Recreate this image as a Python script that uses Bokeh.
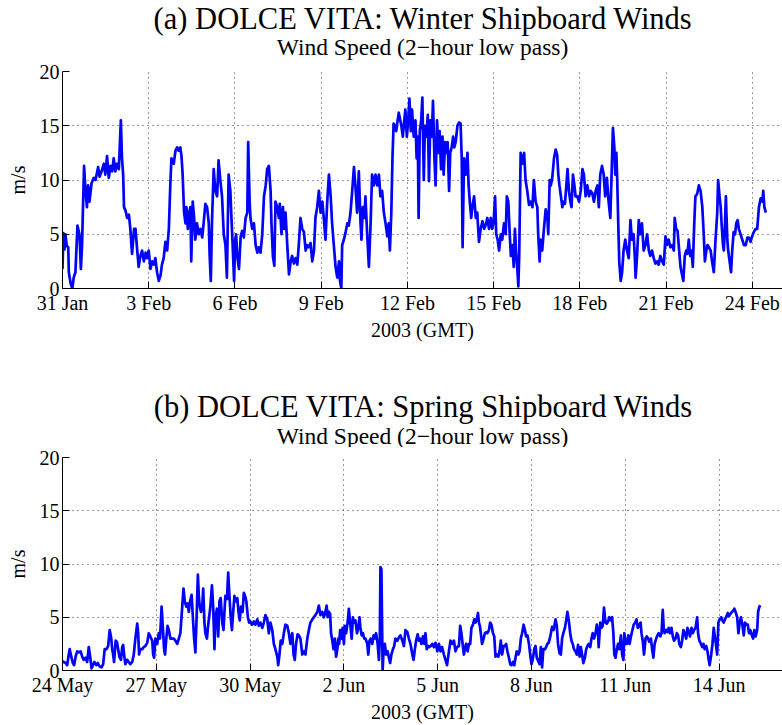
from bokeh.plotting import figure
from bokeh.layouts import column
from bokeh.models import FixedTicker, Range1d
from bokeh.core.properties import value
from bokeh.embed import file_html
from bokeh.resources import INLINE

FONT = "Liberation Serif"

# Winter cruise: days since 31 Jan 2003 00:00 GMT, wind speed (m/s)
winter_day = [
    0.00, 0.03, 0.07, 0.10, 0.15, 0.20, 0.22, 0.28, 0.34, 0.39, 0.45, 0.52, 0.59, 0.64, 0.68,
    0.75, 0.80, 0.85, 0.89, 0.94, 1.01, 1.09, 1.15, 1.24, 1.29, 1.36, 1.44, 1.49, 1.55, 1.61,
    1.67, 1.73, 1.78, 1.84, 1.90, 1.96, 2.03, 2.07, 2.11, 2.14, 2.19, 2.25, 2.31, 2.36, 2.42,
    2.49, 2.54, 2.60, 2.65, 2.71, 2.77, 2.83, 2.89, 2.94, 3.00, 3.06, 3.12, 3.18, 3.23, 3.29,
    3.35, 3.41, 3.46, 3.52, 3.58, 3.64, 3.70, 3.75, 3.79, 3.87, 3.93, 3.99, 4.04, 4.10, 4.14,
    4.18, 4.23, 4.28, 4.31, 4.36, 4.39, 4.45, 4.48, 4.53, 4.58, 4.62, 4.68, 4.74, 4.80, 4.86,
    4.91, 4.97, 5.03, 5.09, 5.12, 5.16, 5.20, 5.26, 5.32, 5.38, 5.43, 5.49, 5.55, 5.61, 5.67,
    5.72, 5.78, 5.84, 5.87, 5.92, 5.97, 6.01, 6.04,
    6.08, 6.14, 6.20, 6.25, 6.31, 6.37, 6.43, 6.46, 6.51, 6.54, 6.60, 6.66, 6.72, 6.78, 6.83,
    6.89, 6.95, 7.01, 7.07, 7.12, 7.18, 7.24, 7.27, 7.32, 7.37, 7.41, 7.47, 7.53, 7.56, 7.62,
    7.67, 7.71, 7.76, 7.82, 7.88, 7.94, 7.99, 8.05, 8.11, 8.17, 8.22, 8.28, 8.34, 8.40, 8.46,
    8.51, 8.57, 8.63, 8.69, 8.75, 8.80, 8.86, 8.92, 8.98, 9.04, 9.09, 9.15, 9.21, 9.27, 9.33,
    9.38, 9.44, 9.50, 9.56, 9.62, 9.65, 9.70, 9.73, 9.79, 9.85, 9.91, 9.96, 10.02, 10.08, 10.14,
    10.19, 10.25, 10.31, 10.37, 10.40, 10.45, 10.50, 10.54, 10.60, 10.66, 10.72, 10.77, 10.83,
    10.89, 10.95, 11.01, 11.06, 11.12, 11.18, 11.24, 11.30, 11.35, 11.39, 11.44, 11.48, 11.52,
    11.56, 11.61, 11.66, 11.70, 11.75, 11.79, 11.84, 11.89, 11.93, 11.98, 12.03, 12.07, 12.12,
    12.16, 12.22, 12.28,
    12.32, 12.36, 12.39, 12.43, 12.48, 12.52, 12.57, 12.61, 12.66, 12.71, 12.75, 12.80, 12.85,
    12.89, 12.94, 12.98, 13.03, 13.08, 13.12, 13.17, 13.22, 13.26, 13.31, 13.36, 13.40, 13.45,
    13.49, 13.54, 13.59, 13.63, 13.68, 13.74, 13.80, 13.85, 13.89, 13.92, 13.97, 14.03, 14.09,
    14.13, 14.17, 14.22, 14.26, 14.32, 14.38, 14.43, 14.49, 14.55, 14.61, 14.67, 14.72, 14.78,
    14.84, 14.90, 14.95, 15.00, 15.05, 15.09, 15.14, 15.19, 15.25, 15.30, 15.36, 15.42, 15.46,
    15.51, 15.56, 15.60, 15.65, 15.70, 15.74, 15.79, 15.82, 15.86, 15.89, 15.94, 16.00, 16.06,
    16.11, 16.17, 16.23, 16.29, 16.35, 16.40, 16.46, 16.52, 16.55, 16.60, 16.63, 16.69, 16.75,
    16.81, 16.87, 16.90, 16.95, 16.99, 17.04, 17.10, 17.16, 17.21, 17.25, 17.29, 17.34, 17.39,
    17.43, 17.48, 17.53, 17.57, 17.62, 17.67, 17.71, 17.76, 17.81, 17.85, 17.91, 17.97, 18.03,
    18.09, 18.14, 18.20, 18.26, 18.32, 18.37, 18.43, 18.49, 18.55, 18.61, 18.66,
    18.71, 18.77, 18.83, 18.88, 18.94, 19.00, 19.06, 19.12, 19.15, 19.20, 19.23, 19.27, 19.30,
    19.34, 19.37, 19.42, 19.47, 19.52, 19.58, 19.64, 19.70, 19.76, 19.81, 19.87, 19.91, 19.94,
    19.99, 20.05, 20.10, 20.16, 20.22, 20.28, 20.34, 20.40, 20.45, 20.51, 20.57, 20.63, 20.69,
    20.74, 20.80, 20.86, 20.92, 20.98, 21.03, 21.09, 21.15, 21.21, 21.27, 21.30, 21.35, 21.40,
    21.44, 21.50, 21.56, 21.60, 21.65, 21.70, 21.74, 21.79, 21.84, 21.88, 21.93, 21.98, 22.02,
    22.08, 22.14, 22.20, 22.26, 22.31, 22.35, 22.40, 22.44, 22.49, 22.55, 22.60, 22.66, 22.72,
    22.78, 22.81, 22.86, 22.90, 22.93, 22.98, 23.01, 23.05, 23.08, 23.13, 23.16, 23.21, 23.26,
    23.30, 23.35, 23.40, 23.44, 23.49, 23.53, 23.59, 23.65, 23.71, 23.77, 23.83, 23.88, 23.94,
    23.98, 24.02, 24.07, 24.12, 24.17, 24.23, 24.29, 24.35, 24.38, 24.42, 24.47,
]
winter_speed = [
    1.8, 5.1, 3.6, 5.0, 3.9, 3.8, 1.5, 0.5, 0.0, 1.0, 1.5, 5.8, 5.0, 1.8, 4.0,
    11.3, 9.0, 7.5, 9.5, 8.0, 9.7, 10.2, 10.0, 11.2, 10.3, 10.8, 11.5, 10.5, 12.2, 10.2,
    11.3, 10.8, 12.0, 10.8, 11.5, 11.0, 15.5, 12.0, 10.5, 7.5, 7.2, 6.5, 6.8, 5.5, 3.2,
    5.5, 5.5, 3.5, 2.0, 3.0, 3.5, 2.5, 3.3, 2.8, 3.5, 1.8, 2.5, 2.2, 2.8, 1.5,
    0.7, 1.2, 2.2, 2.8, 4.3, 3.5, 5.5, 9.5, 12.0, 11.5, 12.7, 13.0, 12.7, 13.0, 12.2,
    10.5, 7.0, 6.0, 7.5, 5.5, 6.8, 7.5, 2.5, 8.0, 6.5, 4.5, 6.0, 5.0, 5.5, 4.7,
    6.0, 7.8, 7.5, 6.0, 3.0, 0.7, 6.0, 11.0, 9.0, 8.5, 11.8, 10.0, 8.5, 5.0, 4.0,
    1.0, 10.5, 9.0, 7.0, 4.0, 0.7, 4.5, 5.0,
    3.0, 1.8, 4.8, 5.3, 4.7, 6.5, 7.0, 13.5, 8.0, 6.5, 5.5, 6.0, 4.0, 3.3, 3.8,
    3.3, 5.0, 8.5, 9.5, 11.0, 11.3, 9.0, 6.0, 3.0, 2.1, 8.0, 7.5, 6.5, 7.8, 5.0,
    7.5, 5.5, 7.0, 4.0, 1.3, 2.5, 3.0, 2.3, 2.8, 2.2, 4.0, 6.5, 5.5, 5.2, 3.5,
    4.0, 3.8, 4.2, 2.5, 3.5, 6.5, 7.5, 9.0, 7.0, 8.0, 6.5, 4.5, 8.0, 10.5, 8.5,
    6.0, 4.0, 2.0, 1.0, 2.5, 0.8, 0.0, 4.0, 4.5, 5.2, 6.0, 5.8, 7.0, 9.0, 11.2,
    9.5, 7.0, 10.8, 6.0, 4.5, 7.5, 6.5, 8.5, 5.0, 2.0, 6.0, 10.5, 9.5,
    10.5, 9.5, 10.5, 8.5, 9.0, 7.0, 6.0, 4.8, 6.0, 3.5, 7.0, 12.0, 15.2,
    15.0, 14.5, 15.5, 16.2, 15.5, 15.0, 14.0, 15.5, 16.5, 14.0, 15.5, 17.5, 14.5,
    16.5, 14.0, 15.5,
    12.0, 14.0, 6.5, 14.5, 15.5, 17.6, 10.0, 15.0, 14.0, 16.0, 9.9, 15.5, 14.0,
    17.3, 12.0, 9.5, 15.5, 12.5, 14.5, 11.0, 14.0, 10.5, 13.5, 12.5, 13.5, 9.0,
    12.5, 13.0, 14.0, 13.0, 13.5, 15.0, 15.3, 15.2, 12.0, 3.8, 12.0, 10.5, 12.5,
    9.5, 8.0, 6.5, 7.5, 8.5, 6.5, 7.0, 4.3, 5.5, 6.2, 5.5, 5.8, 6.5,
    5.5, 6.5, 5.5, 6.2, 8.5, 5.0, 4.5, 3.5, 5.0, 4.5, 6.0, 5.0, 8.5,
    8.0, 5.0, 3.0, 4.0, 2.0, 5.5, 3.0, 2.0, 0.2, 3.0, 12.5, 11.5, 12.5,
    10.0, 9.0, 7.7, 8.0, 7.5, 10.0, 8.0, 7.5, 5.0, 2.5, 4.5, 3.5, 5.5,
    7.3, 6.5, 5.0, 10.0, 9.5, 10.2, 12.0, 12.8, 12.3, 10.5, 9.5, 8.5, 7.5,
    8.0, 7.8, 9.5, 11.0, 9.0, 8.0, 7.5, 10.5, 9.5, 8.5, 8.5, 8.0, 9.0,
    11.0, 10.5, 8.5, 9.5, 8.5, 9.0, 8.8, 8.0, 9.0, 9.5, 7.5,
    10.5, 11.3, 10.5, 8.5, 10.2, 8.0, 6.5, 12.0, 14.8, 13.0, 10.5, 12.5, 10.0,
    5.5, 2.5, 0.7, 1.5, 3.5, 4.5, 3.5, 2.8, 6.3, 4.5, 5.0, 3.0, 1.0,
    3.0, 6.3, 5.0, 6.0, 3.5, 4.0, 5.0, 3.5, 3.0, 3.5, 2.8, 2.3, 2.5,
    2.2, 3.0, 2.5, 2.2, 4.8, 4.0, 4.5, 3.8, 4.0, 3.5, 6.5, 5.5, 5.3,
    4.0, 2.0, 1.2, 0.7, 3.0, 3.5, 3.2, 4.5, 3.0, 3.5, 2.0, 6.0, 8.5,
    8.7, 9.5, 9.0, 7.5, 5.0, 2.5, 3.5, 4.0, 3.8, 3.5, 2.5, 1.5, 4.5,
    7.0, 10.0, 8.5, 7.5, 6.0, 4.0, 3.5, 6.0, 8.5, 4.5, 3.5, 2.5, 1.5,
    3.5, 5.2, 5.0, 6.0, 6.3, 5.5, 5.0, 4.5, 4.0, 4.0, 4.7, 4.7, 4.3,
    4.7, 5.0, 5.3, 5.5, 5.5, 7.5, 8.3, 8.0, 9.0, 7.5, 7.0,
]

# Spring cruise: days since 24 May 2003 00:00 GMT, wind speed (m/s)
spring_day = [
    0.00, 0.04, 0.10, 0.15, 0.20, 0.23, 0.28, 0.33, 0.37, 0.42, 0.47, 0.52, 0.58, 0.63, 0.68,
    0.74, 0.79, 0.84, 0.88, 0.93, 0.97, 1.02, 1.08, 1.13, 1.18, 1.25, 1.30, 1.35, 1.41, 1.46,
    1.51, 1.56, 1.59, 1.62, 1.65, 1.70, 1.74, 1.78, 1.82, 1.87, 1.91, 1.94, 1.97, 2.01, 2.07,
    2.12, 2.17, 2.23, 2.28, 2.33, 2.39, 2.42, 2.45, 2.49, 2.55, 2.60, 2.65, 2.71, 2.76, 2.81,
    2.87, 2.90, 2.93, 2.97, 3.03, 3.08, 3.12, 3.17, 3.21, 3.25, 3.28, 3.32, 3.36, 3.40, 3.45,
    3.51, 3.56, 3.61, 3.67, 3.72, 3.77, 3.83, 3.87, 3.91, 3.96, 4.00, 4.04, 4.08, 4.13, 4.17,
    4.21, 4.25, 4.29, 4.33, 4.36, 4.39, 4.43, 4.47, 4.50, 4.54, 4.57, 4.62, 4.65, 4.69, 4.73,
    4.78, 4.82, 4.86, 4.89, 4.94, 4.98, 5.02, 5.06, 5.11, 5.15, 5.18, 5.21, 5.26, 5.30, 5.34,
    5.38, 5.42, 5.46, 5.50, 5.54, 5.59, 5.63, 5.67, 5.71, 5.76, 5.80, 5.84, 5.88, 5.93, 5.97,
    6.01, 6.07, 6.12, 6.17, 6.23, 6.28, 6.33, 6.39, 6.44, 6.49, 6.55, 6.60, 6.65, 6.71, 6.76,
    6.81, 6.87, 6.90, 6.94, 6.98, 7.03, 7.08, 7.13, 7.19, 7.24, 7.29, 7.35, 7.39, 7.43, 7.47,
    7.52, 7.56, 7.61,
    7.67, 7.72, 7.77, 7.83, 7.88, 7.93, 7.99, 8.04, 8.09, 8.15, 8.20, 8.25, 8.31, 8.36, 8.41,
    8.45, 8.48, 8.52, 8.56, 8.59, 8.63, 8.67, 8.71, 8.75, 8.79, 8.82, 8.85, 8.88, 8.93, 8.96,
    9.00, 9.03, 9.07, 9.12, 9.16, 9.20, 9.25, 9.29, 9.33, 9.37, 9.42, 9.46, 9.50, 9.53, 9.57,
    9.61, 9.65, 9.69, 9.75, 9.78, 9.82, 9.86, 9.91, 9.95, 9.99, 10.03, 10.08, 10.12, 10.15,
    10.17, 10.20, 10.24, 10.27, 10.31, 10.35, 10.40, 10.44, 10.48, 10.52, 10.57, 10.61, 10.65,
    10.71, 10.76, 10.81, 10.87, 10.92, 10.97, 11.03, 11.08, 11.13, 11.19, 11.23, 11.27, 11.31,
    11.36, 11.40, 11.44, 11.48, 11.53, 11.57, 11.61, 11.65, 11.70, 11.74, 11.78, 11.83, 11.88,
    11.93, 11.99, 12.04, 12.09, 12.14, 12.20, 12.25, 12.30, 12.36, 12.41, 12.46, 12.52, 12.57,
    12.62, 12.68, 12.72, 12.76, 12.81, 12.84, 12.87, 12.91, 12.96, 13.00, 13.04, 13.08, 13.13,
    13.17, 13.21, 13.24, 13.29, 13.32, 13.35, 13.38, 13.42, 13.47, 13.51, 13.55, 13.59, 13.64,
    13.68, 13.72, 13.77, 13.81, 13.85, 13.89, 13.94, 13.98, 14.02, 14.06, 14.11, 14.15, 14.19,
    14.23, 14.28, 14.32, 14.36, 14.41, 14.45, 14.49, 14.53, 14.58, 14.62, 14.66, 14.70, 14.75,
    14.79, 14.83, 14.87, 14.92, 14.96, 15.00, 15.04, 15.09, 15.13, 15.17,
    15.26, 15.30, 15.34, 15.38, 15.43, 15.47, 15.51, 15.55, 15.61, 15.66, 15.71, 15.77, 15.81,
    15.85, 15.90, 15.94, 15.98, 16.02, 16.07, 16.11, 16.15, 16.19, 16.24, 16.28, 16.32, 16.36,
    16.41, 16.45, 16.49, 16.54, 16.58, 16.62, 16.66, 16.71, 16.75, 16.79, 16.83, 16.88, 16.92,
    16.96, 17.00, 17.05, 17.09, 17.13, 17.15, 17.20, 17.24, 17.28, 17.32, 17.37, 17.41, 17.45,
    17.49, 17.54, 17.58, 17.62, 17.65, 17.69, 17.73, 17.77, 17.81, 17.86, 17.90, 17.94, 17.97,
    18.02, 18.06, 18.10, 18.14, 18.19, 18.23, 18.27, 18.32, 18.36, 18.40, 18.44, 18.49, 18.52,
    18.56, 18.60, 18.65, 18.69, 18.73, 18.77, 18.82, 18.86, 18.90, 18.94, 18.99, 19.03, 19.07,
    19.12, 19.16, 19.20, 19.23, 19.26, 19.31, 19.35, 19.39, 19.43, 19.48, 19.52, 19.56, 19.61,
    19.65, 19.69, 19.73, 19.78, 19.82, 19.86, 19.90, 19.95, 19.99, 20.03, 20.07, 20.12, 20.16,
    20.20, 20.25, 20.30, 20.33, 20.37, 20.42, 20.46, 20.50, 20.54, 20.59, 20.63, 20.67, 20.70,
    20.75, 20.79, 20.83, 20.86, 20.90, 20.94, 20.98, 21.02, 21.07, 21.11, 21.15, 21.19, 21.24,
    21.28, 21.32, 21.36, 21.41, 21.45, 21.49, 21.53, 21.58, 21.62, 21.66, 21.70, 21.75, 21.79,
    21.83, 21.88, 21.92, 21.96, 22.00, 22.05, 22.09, 22.13, 22.17, 22.22, 22.25, 22.29, 22.33,
]
spring_speed = [
    0.9, 0.8, 0.7, 0.5, 1.5, 2.0, 1.3, 0.7, 0.5, 1.3, 1.8, 1.7, 1.8, 1.3, 1.0,
    1.2, 0.8, 2.2, 1.4, 0.2, 0.5, 0.8, 0.5, 0.7, 0.4, 0.3, 0.6, 2.0, 2.0, 2.3,
    3.8, 3.0, 2.0, 1.5, 0.8, 2.8, 2.7, 2.0, 1.3, 1.0, 2.2, 2.4, 1.5, 0.6, 1.0,
    0.8, 0.6, 0.8, 1.5, 3.0, 4.4, 3.5, 1.5, 2.0, 2.0, 2.2, 2.3, 2.6, 3.5, 3.2,
    2.8, 1.5, 1.2, 3.0, 2.5, 3.5, 3.0, 6.0, 4.0, 2.0, 1.5, 3.0, 4.2, 3.8, 3.0,
    3.0, 3.0, 2.8, 2.5, 3.0, 3.5, 6.0, 7.7, 6.5, 6.0, 6.3, 5.5, 6.5, 7.1, 5.0,
    3.0, 1.7, 5.0, 9.0, 7.0, 6.0, 5.5, 6.0, 7.7, 4.5, 3.5, 3.0, 4.0, 5.0, 6.0,
    8.0, 6.0, 2.0, 5.0, 5.8, 3.2, 6.5, 6.8, 4.5, 3.8, 5.5, 7.0, 6.7, 9.2, 7.0,
    5.0, 3.8, 5.5, 7.0, 6.5, 6.8, 5.5, 4.7, 6.0, 5.5, 7.3, 7.0, 6.5, 5.0, 4.5,
    4.6, 4.3, 4.6, 4.3, 4.8, 4.2, 4.5, 4.0, 4.5, 5.2, 4.8, 3.5, 4.5, 3.8, 2.5,
    2.0, 1.3, 0.5, 1.5, 2.8, 2.5, 3.5, 4.3, 4.2, 3.5, 2.5, 3.5, 1.5, 1.0, 2.5,
    3.4, 3.3, 3.0,
    1.5, 1.8, 1.5, 3.0, 3.8, 4.5, 4.8, 5.0, 5.2, 5.5, 6.1, 5.2, 5.5, 5.0, 5.5,
    6.1, 5.0, 5.5, 5.3, 3.5, 2.8, 2.0, 3.0, 1.3, 2.0, 3.0, 2.5, 3.8, 3.0, 4.0,
    2.5, 4.2, 3.5, 4.5, 5.8, 4.5, 3.0, 5.0, 4.5, 4.7, 3.5, 4.0, 5.0, 4.0, 3.3,
    3.5, 3.0, 3.0, 2.5, 1.5, 2.8, 3.0, 2.5, 3.3, 3.0, 3.5, 2.5, 1.0, 3.0,
    9.7, 9.5, 0.0, 2.0, 2.5, 1.5, 1.8, 1.2, 0.7, 1.5, 2.0, 2.3, 3.0,
    2.8, 3.1, 3.3, 2.8, 2.3, 3.8, 3.6, 3.0, 2.5, 1.5, 1.0, 2.0, 2.8,
    3.4, 2.8, 3.0, 2.5, 3.2, 2.5, 3.5, 2.0, 2.3, 2.2, 2.3, 2.5, 2.2,
    2.6, 1.8, 2.5, 1.8, 2.2, 1.5, 1.0, 0.5, 1.8, 2.8, 2.5, 2.8, 1.8,
    2.2, 2.3, 4.2, 3.5, 2.2, 1.5, 2.0, 2.5, 1.8, 2.5, 2.5, 4.0, 4.3,
    4.8, 4.5, 4.7, 5.4, 4.5, 4.2, 3.5, 2.5, 3.0, 3.5, 3.6, 3.5, 3.8,
    4.5, 4.3, 3.5, 3.2, 1.3, 1.5, 1.3, 1.8, 2.8, 1.5, 2.3, 2.3, 2.5,
    1.8, 1.2, 0.6, 0.5, 0.8, 0.5, 1.2, 1.8, 1.5, 1.8, 3.0, 3.5, 4.3,
    3.8, 3.2, 3.3, 2.5, 1.5, 0.6, 1.0, 2.0, 2.3, 1.2,
    0.6, 2.2, 0.3, 2.0, 2.0, 2.2, 2.5, 2.6, 3.3, 4.1, 3.8, 4.8, 4.2,
    2.5, 1.6, 1.5, 3.0, 3.5, 4.0, 4.7, 5.5, 4.8, 3.5, 2.8, 2.5, 2.0,
    1.8, 1.5, 2.4, 1.3, 2.2, 1.5, 0.7, 1.2, 2.0, 2.3, 2.5, 2.2, 3.0,
    3.5, 3.0, 3.5, 4.3, 3.5, 2.2, 4.5, 4.0, 4.2, 5.9, 4.5, 4.4, 4.6,
    5.0, 4.7, 5.0, 3.5, 1.5, 1.2, 2.0, 2.5, 2.0, 3.3, 1.5, 1.0, 3.5,
    2.5, 2.5, 3.3, 2.5, 3.3, 3.8, 4.3, 4.5, 4.8, 4.0, 4.2, 4.5, 3.5,
    2.8, 1.5, 3.0, 3.2, 3.0, 2.7, 3.0, 2.0, 1.2, 2.5, 3.0, 3.3, 3.5,
    3.2, 3.5, 5.7, 4.0, 3.5, 3.8, 3.6, 4.0, 3.5, 4.0, 3.2, 2.8, 3.0,
    3.5, 3.3, 2.5, 2.2, 2.8, 3.8, 3.5, 3.0, 4.0, 3.7, 3.2, 4.0, 3.5,
    3.8, 4.0, 5.0, 3.5, 2.8, 2.5, 2.2, 2.5, 2.0, 2.3, 1.8, 1.0, 0.5,
    1.5, 2.5, 4.0, 3.3, 2.5, 1.5, 4.5, 4.8, 5.0, 4.7, 4.5, 4.8, 5.1,
    5.4, 5.1, 5.3, 5.5, 5.6, 5.8, 5.5, 5.0, 3.5, 4.5, 5.0, 4.2, 3.3,
    4.5, 4.3, 4.3, 3.5, 3.8, 3.3, 3.0, 3.8, 3.2, 3.8, 5.5, 6.0, 6.1,
]

winter_ticks = [0, 3, 6, 9, 12, 15, 18, 21, 24]
winter_tick_labels = ["31 Jan", "3 Feb", "6 Feb", "9 Feb", "12 Feb",
                      "15 Feb", "18 Feb", "21 Feb", "24 Feb"]
spring_ticks = [0, 3, 6, 9, 12, 15, 18, 21]
spring_tick_labels = ["24 May", "27 May", "30 May", "2 Jun", "5 Jun",
                      "8 Jun", "11 Jun", "14 Jun"]
speed_ticks = [0, 5, 10, 15, 20]

SUBTITLE = "Wind Speed (2\u2212hour low pass)"


def heading(title, height, title_y, sub_y):
    """A strip holding the two-line heading; its scales run in pixels."""
    h = figure(width=782, height=height, x_range=Range1d(62, 782),
               y_range=Range1d(height, 0), x_axis_type=None, y_axis_type=None,
               output_backend="svg", toolbar_location=None,
               min_border_left=62, min_border_right=0,
               min_border_top=0, min_border_bottom=0)
    h.outline_line_color = None
    h.xgrid.visible = False
    h.ygrid.visible = False
    h.text(x=[423], y=[title_y], text=[title], text_align="center",
           text_baseline="middle", text_font=value(FONT),
           text_font_size=value("30.5px"), text_color="black")
    h.text(x=[422], y=[sub_y], text=[SUBTITLE], text_align="center",
           text_baseline="middle", text_font=value(FONT),
           text_font_size=value("23.5px"), text_color="black")
    return h


def wind_panel(days, speed, ticks, labels, x_end, height,
               border_top, border_bottom):
    p = figure(width=782, height=height,
               x_range=Range1d(0, x_end), y_range=Range1d(0, 20),
               output_backend="svg", toolbar_location=None,
               title_location=None,
               min_border_left=62, min_border_right=0,
               min_border_top=border_top, min_border_bottom=border_bottom)
    p.outline_line_color = None
    p.background_fill_color = "white"
    p.border_fill_color = "white"

    p.line(days, speed, line_color="#0000ff", line_width=2.7,
           line_join="round")

    p.xaxis.ticker = FixedTicker(ticks=ticks)
    p.xaxis.major_label_overrides = {t: lab for t, lab in zip(ticks, labels)}
    p.yaxis.ticker = FixedTicker(ticks=speed_ticks)
    p.xaxis.axis_label = "2003 (GMT)"
    p.yaxis.axis_label = "m/s"

    for ax in (p.xaxis[0], p.yaxis[0]):
        ax.axis_line_color = "black"
        ax.axis_line_width = 1
        ax.major_tick_line_color = "black"
        ax.major_tick_in = 7
        ax.major_tick_out = 0
        ax.minor_tick_line_color = None
        ax.major_label_text_font = FONT
        ax.major_label_text_font_size = "20px"
        ax.major_label_text_color = "black"
        ax.axis_label_text_font = FONT
        ax.axis_label_text_font_size = "20px"
        ax.axis_label_text_font_style = "normal"
        ax.axis_label_text_color = "black"
    p.xaxis.major_label_standoff = 3
    p.xaxis.axis_label_standoff = 2
    p.yaxis.major_label_standoff = 3
    p.yaxis.axis_label_standoff = 8

    for g in (p.xgrid[0], p.ygrid[0]):
        g.grid_line_color = "#333333"
        g.grid_line_dash = "1 4"
        g.grid_line_width = 1
    return p


head_a = heading("(a) DOLCE VITA: Winter Shipboard Winds", 60, 18, 46)
top = wind_panel(winter_day, winter_speed, winter_ticks, winter_tick_labels,
                 25.05, 310, 11, 82)
head_b = heading("(b) DOLCE VITA: Spring Shipboard Winds", 77, 36, 65)
bottom = wind_panel(spring_day, spring_speed, spring_ticks, spring_tick_labels,
                    23.03, 278, 10, 52)

layout = column(head_a, top, head_b, bottom, spacing=0)
open("out.html", "w").write(file_html(layout, INLINE))
